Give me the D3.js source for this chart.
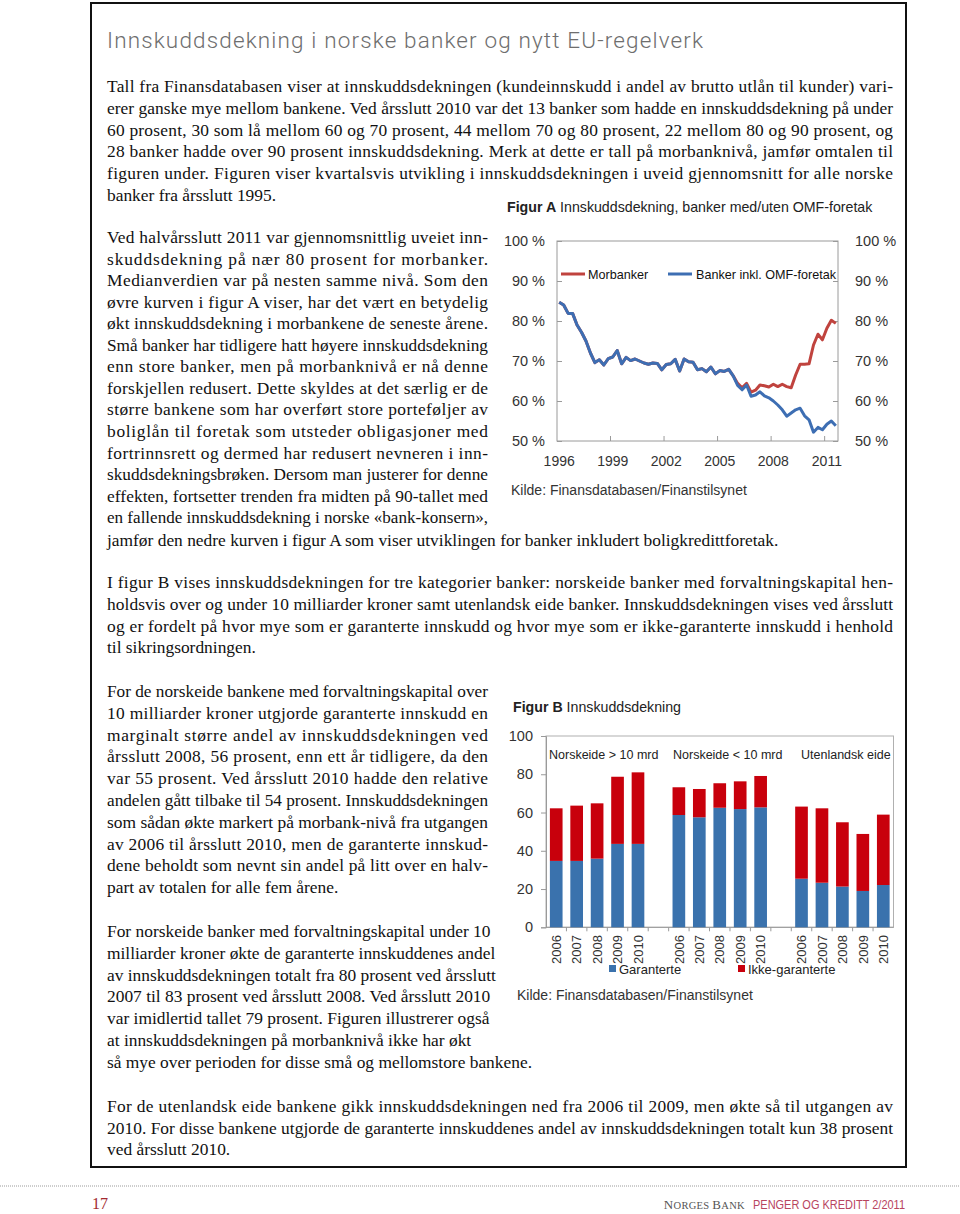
<!DOCTYPE html>
<html><head><meta charset="utf-8">
<script src="https://cdn.jsdelivr.net/npm/d3@7"></script>
<style>
html,body{margin:0;padding:0;background:#fff;}
svg{display:block;}
</style></head>
<body>
<svg id="page" width="960" height="1214"></svg>
<script>
// ---------- Figure A data (quarterly, 1995K4 - 2011K2) ----------
const quarters = ["1995K4","1996K1","1996K2","1996K3","1996K4","1997K1","1997K2","1997K3","1997K4",
"1998K1","1998K2","1998K3","1998K4","1999K1","1999K2","1999K3","1999K4","2000K1","2000K2","2000K3","2000K4",
"2001K1","2001K2","2001K3","2001K4","2002K1","2002K2","2002K3","2002K4","2003K1","2003K2","2003K3","2003K4",
"2004K1","2004K2","2004K3","2004K4","2005K1","2005K2","2005K3","2005K4","2006K1","2006K2","2006K3","2006K4",
"2007K1","2007K2","2007K3","2007K4","2008K1","2008K2","2008K3","2008K4","2009K1","2009K2","2009K3","2009K4",
"2010K1","2010K2","2010K3","2010K4","2011K1","2011K2"];
const bankerInklOMF = [84.7,84.0,81.9,81.9,79.0,77.2,75.0,72.0,69.6,70.3,69.0,70.6,71.0,72.6,69.3,70.9,70.1,70.5,70.0,69.5,69.2,69.5,69.4,67.8,69.1,69.3,70.4,67.5,70.5,69.8,69.7,67.8,68.1,67.3,68.5,66.8,67.6,67.4,67.9,66.3,63.9,62.8,64.0,61.2,61.5,62.3,61.3,60.8,60.0,59.0,57.8,56.2,57.0,57.8,58.2,56.3,55.3,52.2,53.4,52.8,54.2,55.0,53.8];
const morbanker = [84.7,84.0,81.9,81.9,79.0,77.2,75.0,72.0,69.6,70.3,69.0,70.6,71.0,72.6,69.3,70.9,70.1,70.5,70.0,69.5,69.2,69.5,69.4,67.8,69.1,69.3,70.4,67.5,70.5,69.8,69.7,67.8,68.1,67.3,68.5,66.8,67.6,67.4,67.9,66.3,64.4,63.3,64.4,62.2,62.7,64.0,63.8,63.5,64.2,63.6,64.2,63.6,63.3,66.5,69.2,69.2,69.3,74.0,76.7,75.3,78.2,80.2,79.4];
const yearTicksA = ["1996","1999","2002","2005","2008","2011"];
const yearTickQuarterA = ["1995K4","1998K4","2001K4","2004K4","2007K4","2010K4"];
const pctTicksA = [50,60,70,80,90,100];

// ---------- Figure B data ----------
const groupsB = ["Norskeide > 10 mrd","Norskeide < 10 mrd","Utenlandsk eide"];
const yearsB = ["2006","2007","2008","2009","2010"];
const garanterte = [[34.7,34.7,35.9,43.6,43.6],[58.7,57.5,62.5,61.8,62.7],[25.4,23.3,21.3,19.0,22.1]];
const ikkeGaranterte = [[27.5,28.9,28.9,35.1,37.4],[14.5,14.8,12.8,14.5,16.4],[37.7,38.9,33.6,29.8,36.8]];
const ticksB = [0,20,40,60,80,100];

// ---------- Text ----------
const titleText = "Innskuddsdekning i norske banker og nytt EU-regelverk";
const para1 = [
 ["Tall fra Finansdatabasen viser at innskuddsdekningen (kundeinnskudd i andel av brutto utlån til kunder) vari-",1],
 ["erer ganske mye mellom bankene. Ved årsslutt 2010 var det 13 banker som hadde en innskuddsdekning på under",1],
 ["60 prosent, 30 som lå mellom 60 og 70 prosent, 44 mellom 70 og 80 prosent, 22 mellom 80 og 90 prosent, og",1],
 ["28 banker hadde over 90 prosent innskuddsdekning. Merk at dette er tall på morbanknivå, jamfør omtalen til",1],
 ["figuren under. Figuren viser kvartalsvis utvikling i innskuddsdekningen i uveid gjennomsnitt for alle norske",1],
 ["banker fra årsslutt 1995.",0]];
const para2 = [
 ["Ved halvårsslutt 2011 var gjennomsnittlig uveiet inn-",1],
 ["skuddsdekning på nær 80 prosent for morbanker.",1],
 ["Medianverdien var på nesten samme nivå. Som den",1],
 ["øvre kurven i figur A viser, har det vært en betydelig",1],
 ["økt innskuddsdekning i morbankene de seneste årene.",1],
 ["Små banker har tidligere hatt høyere innskuddsdekning",1],
 ["enn store banker, men på morbanknivå er nå denne",1],
 ["forskjellen redusert. Dette skyldes at det særlig er de",1],
 ["større bankene som har overført store porteføljer av",1],
 ["boliglån til foretak som utsteder obligasjoner med",1],
 ["fortrinnsrett og dermed har redusert nevneren i inn-",1],
 ["skuddsdekningsbrøken. Dersom man justerer for denne",1],
 ["effekten, fortsetter trenden fra midten på 90-tallet med",1],
 ["en fallende innskuddsdekning i norske «bank-konsern»,",1]];
const para2end = "jamfør den nedre kurven i figur A som viser utviklingen for banker inkludert boligkredittforetak.";
const para3 = [
 ["I figur B vises innskuddsdekningen for tre kategorier banker: norskeide banker med forvaltningskapital hen-",1],
 ["holdsvis over og under 10 milliarder kroner samt utenlandsk eide banker. Innskuddsdekningen vises ved årsslutt",1],
 ["og er fordelt på hvor mye som er garanterte innskudd og hvor mye som er ikke-garanterte innskudd i henhold",1],
 ["til sikringsordningen.",0]];
const para4 = [
 ["For de norskeide bankene med forvaltningskapital over",1],
 ["10 milliarder kroner utgjorde garanterte innskudd en",1],
 ["marginalt større andel av innskuddsdekningen ved",1],
 ["årsslutt 2008, 56 prosent, enn ett år tidligere, da den",1],
 ["var 55 prosent. Ved årsslutt 2010 hadde den relative",1],
 ["andelen gått tilbake til 54 prosent. Innskuddsdekningen",1],
 ["som sådan økte markert på morbank-nivå fra utgangen",1],
 ["av 2006 til årsslutt 2010, men de garanterte innskud-",1],
 ["dene beholdt som nevnt sin andel på litt over en halv-",1],
 ["part av totalen for alle fem årene.",0]];
const para5 = [
 ["For norskeide banker med forvaltningskapital under 10",0],
 ["milliarder kroner økte de garanterte innskuddenes andel",0],
 ["av innskuddsdekningen totalt fra 80 prosent ved årsslutt",0],
 ["2007 til 83 prosent ved årsslutt 2008. Ved årsslutt 2010",0],
 ["var imidlertid tallet 79 prosent. Figuren illustrerer også",0],
 ["at innskuddsdekningen på morbanknivå ikke har økt",0],
 ["så mye over perioden for disse små og mellomstore bankene.",0]];
const para6 = [
 ["For de utenlandsk eide bankene gikk innskuddsdekningen ned fra 2006 til 2009, men økte så til utgangen av",1],
 ["2010. For disse bankene utgjorde de garanterte innskuddenes andel av innskuddsdekningen totalt kun 38 prosent",1],
 ["ved årsslutt 2010.",0]];

const svg = d3.select("#page");
const SERIF = "'Liberation Serif','Times New Roman',serif";
const SANS = "'Liberation Sans',Arial,Helvetica,sans-serif";
const FS = 17.4;

svg.append("rect").attr("width",960).attr("height",1214).attr("fill","#fff");
// frame
svg.append("rect").attr("x",91).attr("y",3).attr("width",815).attr("height",1164)
  .attr("fill","none").attr("stroke","#111").attr("stroke-width",2);

svg.append("text").attr("x",107).attr("y",48).text(titleText)
  .attr("font-family","Roboto,'Liberation Sans',sans-serif").attr("font-weight",300)
  .attr("font-size",22.5).attr("fill","#6e6e6e")
  .attr("textLength",596).attr("lengthAdjust","spacing");

function para(lines, x, y0, lh, width){
  lines.forEach((l,i)=>{
    const t = svg.append("text").attr("x",x).attr("y",y0+i*lh).text(l[0])
      .attr("font-family",SERIF).attr("font-size",FS).attr("fill","#111");
    if(l[1]){
      const nat = t.node().getComputedTextLength();
      t.attr("textLength",width).attr("lengthAdjust", nat>width ? "spacingAndGlyphs" : "spacing");
    }
  });
}
para(para1,107,92,21.8,786);
para(para2,107,243,21.55,381);
svg.append("text").attr("x",107).attr("y",546).text(para2end)
  .attr("font-family",SERIF).attr("font-size",FS).attr("fill","#111");
para(para3,107,588,21.8,786);
para(para4,107,697,21.8,381);
para(para5,107,937,21.8,381);
para(para6,107,1112,21.5,786);

// ---------- Figure A ----------
const gA = svg.append("g");
const xA = d3.scalePoint().domain(quarters).range([559.2,835.8]);
const yA = d3.scaleLinear().domain([50,100]).range([441,241]);
const leftA = 557, rightA = 838;
gA.append("text").attr("x",507).attr("y",212).attr("font-family",SANS).attr("font-size",14.2).attr("fill","#222")
  .call(t=>{t.append("tspan").attr("font-weight","bold").text("Figur A");
            t.append("tspan").text(" Innskuddsdekning, banker med/uten OMF-foretak");});
gA.append("rect").attr("x",leftA).attr("y",yA(100)).attr("width",rightA-leftA).attr("height",yA(50)-yA(100))
  .attr("fill","none").attr("stroke","#9a9a9a").attr("stroke-width",1);
const axL = d3.axisLeft(yA).tickValues(pctTicksA).tickSize(-5).tickPadding(12).tickFormat(d=>d+" %");
const axR = d3.axisRight(yA).tickValues(pctTicksA).tickSize(-5).tickPadding(17).tickFormat(d=>d+" %");
[[axL,leftA],[axR,rightA]].forEach(([ax,x])=>{
  const g = gA.append("g").attr("transform",`translate(${x},0)`).call(ax);
  g.select(".domain").remove();
  g.selectAll("line").attr("stroke","#9a9a9a");
  g.selectAll("text").attr("font-family",SANS).attr("font-size",14.5).attr("fill","#333");
});
// x ticks (between categories every 12 quarters) and labels
const stepA = xA.step();
const tickQ = yearTickQuarterA.slice(1);
gA.selectAll(".xtA").data(tickQ).join("line")
  .attr("x1",d=>xA(d)-stepA/2).attr("x2",d=>xA(d)-stepA/2)
  .attr("y1",yA(50)).attr("y2",yA(50)-5).attr("stroke","#9a9a9a");
gA.selectAll(".xlA").data(yearTicksA).join("text")
  .attr("x",(d,i)=>xA(yearTickQuarterA[i])).attr("y",466).attr("text-anchor","middle")
  .attr("font-family",SANS).attr("font-size",14).attr("fill","#333").text(d=>d);
const lineA = d3.line().x((d,i)=>xA(quarters[i])).y(d=>yA(d));
gA.append("path").datum(morbanker).attr("d",lineA).attr("fill","none")
  .attr("stroke","#c0433e").attr("stroke-width",3).attr("stroke-linejoin","round");
gA.append("path").datum(bankerInklOMF).attr("d",lineA).attr("fill","none")
  .attr("stroke","#3d6eb3").attr("stroke-width",3).attr("stroke-linejoin","round");
// legend
const legA = [["Morbanker","#c0433e",561,588],["Banker inkl. OMF-foretak","#3d6eb3",668,696]];
legA.forEach(([name,c,lx,tx])=>{
  gA.append("line").attr("x1",lx).attr("x2",lx+24).attr("y1",274).attr("y2",274).attr("stroke",c).attr("stroke-width",3);
  gA.append("text").attr("x",tx).attr("y",278.5).text(name).attr("font-family",SANS).attr("font-size",12.6).attr("fill","#111");
});
gA.append("text").attr("x",511).attr("y",495).text("Kilde: Finansdatabasen/Finanstilsynet")
  .attr("font-family",SANS).attr("font-size",14).attr("fill","#333");

// ---------- Figure B ----------
const gB = svg.append("g");
const slots = [];
groupsB.forEach((g,gi)=>{ yearsB.forEach(y=>slots.push(gi+"|"+y)); if(gi<groupsB.length-1) slots.push("gap"+gi); });
const xB = d3.scaleBand().domain(slots).range([546,893.5]).paddingInner(0.38).paddingOuter(0.19);
const yB = d3.scaleLinear().domain([0,100]).range([927.3,736]);
gB.append("text").attr("x",513).attr("y",712).attr("font-family",SANS).attr("font-size",14.2).attr("fill","#222")
  .call(t=>{t.append("tspan").attr("font-weight","bold").text("Figur B");
            t.append("tspan").text(" Innskuddsdekning");});
gB.append("rect").attr("x",546).attr("y",yB(100)).attr("width",893.5-546).attr("height",yB(0)-yB(100))
  .attr("fill","none").attr("stroke","#b0b0b0");
const axB = gB.append("g").attr("transform","translate(546,0)")
  .call(d3.axisLeft(yB).tickValues(ticksB).tickSize(5).tickPadding(8));
axB.select(".domain").attr("stroke","#9a9a9a");
axB.selectAll("line").attr("stroke","#9a9a9a");
axB.selectAll("text").attr("font-family",SANS).attr("font-size",14.5).attr("fill","#333");
gB.append("line").attr("x1",546).attr("x2",893.5).attr("y1",yB(0)).attr("y2",yB(0)).attr("stroke","#9a9a9a");
// category tick marks between slots
const stepB = xB.step();
gB.selectAll(".tb").data(slots.slice(1)).join("line")
  .attr("x1",d=>xB(d)-xB.paddingInner()*stepB/2).attr("x2",d=>xB(d)-xB.paddingInner()*stepB/2)
  .attr("y1",yB(0)).attr("y2",yB(0)+4).attr("stroke","#9a9a9a");
const barsB = [];
groupsB.forEach((g,gi)=>yearsB.forEach((y,yi)=>barsB.push({key:gi+"|"+y, year:y, g:garanterte[gi][yi], ig:ikkeGaranterte[gi][yi]})));
gB.selectAll(".bg").data(barsB).join("rect")
  .attr("x",d=>xB(d.key)).attr("width",xB.bandwidth())
  .attr("y",d=>yB(d.g)).attr("height",d=>yB(0)-yB(d.g)).attr("fill","#3a72ad");
gB.selectAll(".bi").data(barsB).join("rect")
  .attr("x",d=>xB(d.key)).attr("width",xB.bandwidth())
  .attr("y",d=>yB(d.g+d.ig)).attr("height",d=>yB(d.g)-yB(d.g+d.ig)).attr("fill","#c8000c");
gB.selectAll(".yl").data(barsB).join("text")
  .attr("transform",d=>`translate(${xB(d.key)+xB.bandwidth()/2},935) rotate(-90)`)
  .attr("text-anchor","end").attr("dy","0.36em").text(d=>d.year)
  .attr("font-family",SANS).attr("font-size",13).attr("fill","#333");
const groupLabelX = [549,673,801];
groupsB.forEach((g,i)=>gB.append("text").attr("x",groupLabelX[i]).attr("y",759).text(g)
  .attr("font-family",SANS).attr("font-size",12.5).attr("fill","#222"));
// legend
[["Garanterte","#3a72ad",609],["Ikke-garanterte","#c8000c",738]].forEach(([n,c,x])=>{
  gB.append("rect").attr("x",x).attr("y",965).attr("width",7).attr("height",7).attr("fill",c);
  gB.append("text").attr("x",x+10).attr("y",974).text(n).attr("font-family",SANS).attr("font-size",13).attr("fill","#222");
});
gB.append("text").attr("x",517).attr("y",1000).text("Kilde: Finansdatabasen/Finanstilsynet")
  .attr("font-family",SANS).attr("font-size",14).attr("fill","#333");

// ---------- Footer ----------
svg.append("line").attr("x1",0).attr("x2",960).attr("y1",1186).attr("y2",1186)
  .attr("stroke","#9a9a9a").attr("stroke-width",1).attr("stroke-dasharray","1,1");
svg.append("text").attr("x",92).attr("y",1209).text("17").attr("font-family",SERIF).attr("font-size",16).attr("fill","#a32a30");
svg.append("text").attr("x",745).attr("y",1209).attr("text-anchor","end")
  .attr("font-family",SERIF).attr("fill","#555").attr("letter-spacing",0.3)
  .call(t=>{t.append("tspan").attr("font-size",13).text("N");
            t.append("tspan").attr("font-size",10.5).text("ORGES ");
            t.append("tspan").attr("font-size",13).text("B");
            t.append("tspan").attr("font-size",10.5).text("ANK");});
svg.append("text").attr("x",905).attr("y",1209).attr("text-anchor","end").text("PENGER OG KREDITT 2/2011")
  .attr("font-family",SANS).attr("font-size",12.5).attr("fill","#b8445e").attr("textLength",152).attr("lengthAdjust","spacingAndGlyphs");
</script>
</body></html>
